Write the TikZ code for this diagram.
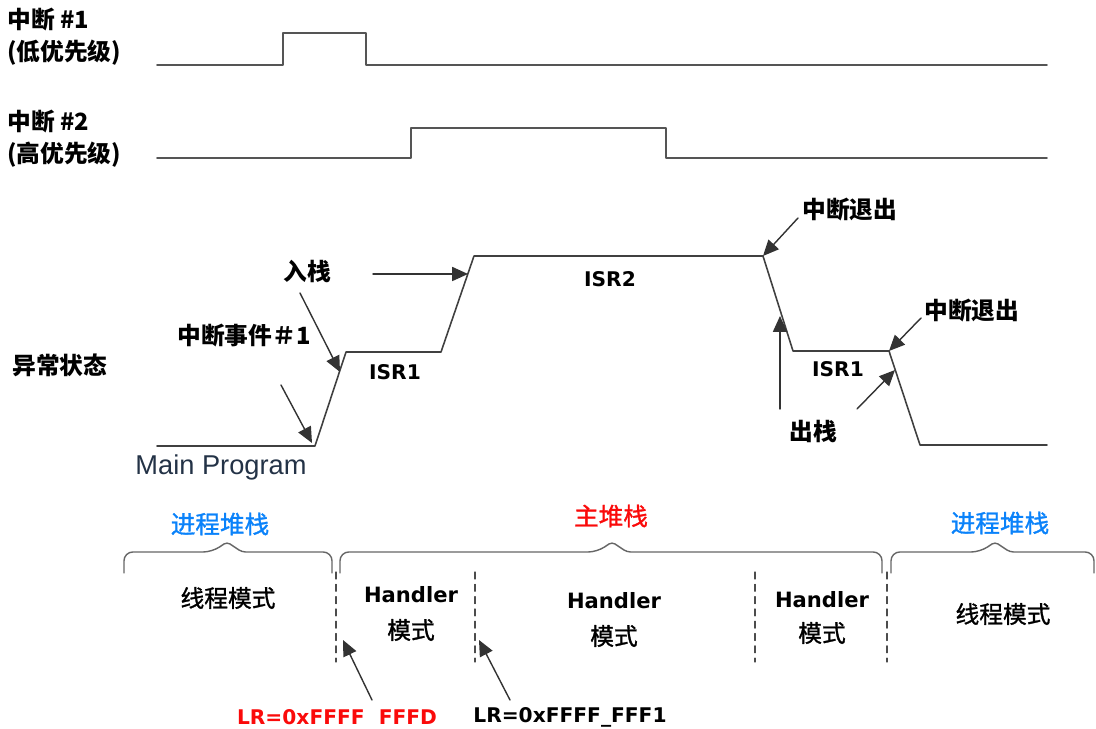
\documentclass[tikz,border=0pt]{standalone}
\usepackage{fontspec}
\setmainfont{DejaVu Sans}
\newfontfamily\cjk{Noto Sans CJK SC}
\newfontfamily\cjkm[FakeBold=1.2]{Noto Sans CJK SC}
\newfontfamily\verd{DejaVu Sans}
\newfontfamily\arialf{Liberation Sans}
\usetikzlibrary{arrows.meta}
\definecolor{psblue}{RGB}{10,130,250}
\definecolor{msred}{RGB}{250,10,10}
\definecolor{lineg}{RGB}{85,85,85}
\definecolor{mainprog}{RGB}{35,50,70}

\begin{document}
\begin{tikzpicture}[
  x=0.02cm, y=-0.02cm,
  line cap=round,
  line join=round,
  every node/.style={inner sep=0pt},
  cjklab/.style={font=\cjk\fontsize{13.5}{18}\selectfont\bfseries},
  modelab/.style={font=\cjkm\fontsize{13.5}{18}\selectfont},
  stacklab/.style={font=\cjkm\fontsize{14}{18}\selectfont},
  isrlab/.style={font=\verd\fontsize{11.5}{14}\selectfont\bfseries},
  hdllab/.style={font=\verd\fontsize{12}{14}\selectfont\bfseries},
  sigline/.style={draw=lineg, line width=0.9pt},
  evarrow/.style={draw=black!80, line width=0.8pt, -{Triangle[length=9pt,width=8pt]}},
  stackbrace/.style={draw=black!60, line width=0.8pt},
  modesep/.style={draw=black!70, line width=0.6pt, dash pattern=on 4pt off 3pt}
]
  \useasboundingbox (0,0) rectangle (1096,729);

  % 中断 #1
  \coordinate (a0) at (157,65);
  \coordinate (a1) at (283,65);
  \coordinate (a2) at (283,33);
  \coordinate (a3) at (366,33);
  \coordinate (a4) at (366,65);
  \coordinate (a5) at (1047,65);
  \draw[sigline] (a0)--(a1)--(a2)--(a3)--(a4)--(a5);
  \node[cjklab, align=left, anchor=west] (irqA) at (7,37) {中断 \#1\\(低优先级)};

  % 中断 #2
  \coordinate (b0) at (157,158);
  \coordinate (b1) at (411,158);
  \coordinate (b2) at (411,128);
  \coordinate (b3) at (666,128);
  \coordinate (b4) at (666,158);
  \coordinate (b5) at (1047,158);
  \draw[sigline] (b0)--(b1)--(b2)--(b3)--(b4)--(b5);
  \node[cjklab, align=left, anchor=west] (irqB) at (7,139) {中断 \#2\\(高优先级)};

  % 异常状态
  \coordinate (s0) at (157,446);
  \coordinate (s1) at (315,446);
  \coordinate (s2) at (346,352);
  \coordinate (s3) at (441,352);
  \coordinate (s4) at (474,256);
  \coordinate (s5) at (763,256);
  \coordinate (s6) at (793,351);
  \coordinate (s7) at (889,351);
  \coordinate (s8) at (920,445);
  \coordinate (s9) at (1047,445);
  \draw[sigline, draw=black!75] (s0)--(s1)--(s2)--(s3)--(s4)--(s5)--(s6)--(s7)--(s8)--(s9);

  \node[cjklab] (state) at (60,365) {异常状态};
  \node[font=\arialf\fontsize{15.5}{18}\selectfont, text=mainprog] (mainp) at (221,467) {Main Program};
  \node[isrlab] (isrA) at (395,372) {ISR1};
  \node[isrlab] (isrB) at (610,279) {ISR2};
  \node[isrlab] (isrC) at (838,369) {ISR1};

  % 事件与箭头
  \node[cjklab] (evt) at (244,336) {中断事件＃1};
  \node[cjklab] (push) at (307,271) {入栈};
  \node[cjklab, anchor=west] (exitA) at (802,210) {中断退出};
  \node[cjklab, anchor=west] (exitB) at (924,311) {中断退出};
  \node[cjklab] (pop) at (813,432) {出栈};

  \coordinate (evtT) at (281,385);
  \coordinate (evtH) at (312,443);
  \coordinate (pushT) at (300,293);
  \coordinate (pushH) at (340,372);
  \coordinate (push2T) at (373,274);
  \coordinate (push2H) at (468,274);
  \coordinate (exitAT) at (798,218);
  \coordinate (exitBT) at (921,318);
  \coordinate (popT) at (780,409);
  \coordinate (popH) at (780,316);
  \coordinate (pop2T) at (857,409);
  \coordinate (pop2H) at (895,370);

  \draw[evarrow] (evtT) -- (evtH);
  \draw[evarrow] (pushT) -- (pushH);
  \draw[evarrow] (push2T) -- (push2H);
  \draw[evarrow] (exitAT) -- (s5);
  \draw[evarrow] (exitBT) -- (s7);
  \draw[evarrow] (popT) -- (popH);
  \draw[evarrow] (pop2T) -- (pop2H);

  % 堆栈括号
  \draw[stackbrace] (124,573) [rounded corners=5pt]-- (124,552) -- (212,552)
    [rounded corners=2pt]-- (227,542) -- (242,552)
    [rounded corners=5pt]-- (332,552) -- (332,573);
  \draw[stackbrace] (340,573) [rounded corners=5pt]-- (340,552) -- (597,552)
    [rounded corners=2pt]-- (612,542) -- (627,552)
    [rounded corners=5pt]-- (882,552) -- (882,573);
  \draw[stackbrace] (891,573) [rounded corners=5pt]-- (891,552) -- (980,552)
    [rounded corners=2pt]-- (995,542) -- (1010,552)
    [rounded corners=5pt]-- (1094,552) -- (1094,573);

  \node[stacklab, text=psblue] (psA) at (220,524) {进程堆栈};
  \node[stacklab, text=msred] (ms) at (611,516) {主堆栈};
  \node[stacklab, text=psblue] (psB) at (1000,523) {进程堆栈};

  % 模式分隔
  \foreach \xx in {336,475,755,887}
    \draw[modesep] (\xx,572) -- (\xx,662);

  \node[modelab] (thrA) at (228,598) {线程模式};
  \node[hdllab] (hdlA) at (411,595) {Handler};
  \node[modelab] (hdlAm) at (411,630) {模式};
  \node[hdllab] (hdlB) at (614,601) {Handler};
  \node[modelab] (hdlBm) at (614,636) {模式};
  \node[hdllab] (hdlC) at (822,600) {Handler};
  \node[modelab] (hdlCm) at (822,633) {模式};
  \node[modelab] (thrB) at (1003,614) {线程模式};

  % EXC_RETURN
  \coordinate (lrAT) at (372,700);
  \coordinate (lrAH) at (343,640);
  \coordinate (lrBT) at (510,700);
  \coordinate (lrBH) at (479,640);
  \draw[evarrow] (lrAT) -- (lrAH);
  \draw[evarrow] (lrBT) -- (lrBH);
  \node[isrlab, text=msred] (lrA) at (337,717) {LR=0xFFFF\ \ FFFD};
  \node[isrlab] (lrB) at (570,717) {LR=0xFFFF\_FFF1};
\end{tikzpicture}
\end{document}
